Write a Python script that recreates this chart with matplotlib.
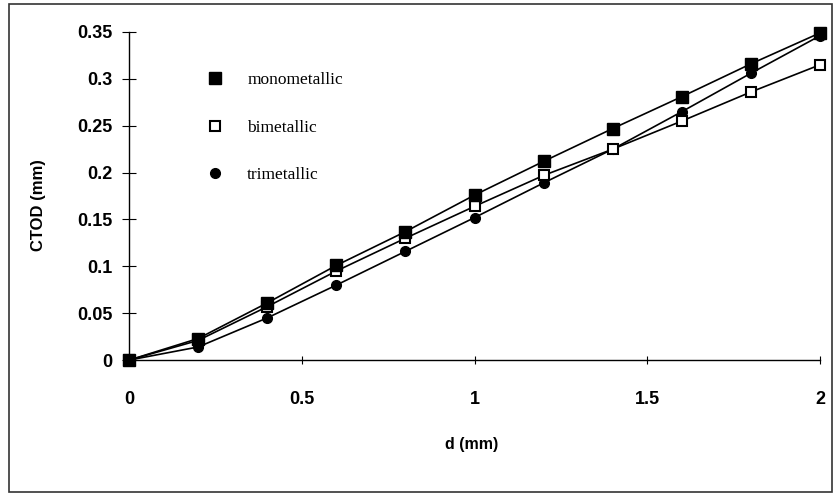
import matplotlib.pyplot as plt
from matplotlib.patches import Rectangle

# data
d = [0, 0.2, 0.4, 0.6, 0.8, 1.0, 1.2, 1.4, 1.6, 1.8, 2.0]
mono = [0, 0.023, 0.061, 0.101, 0.137, 0.176, 0.212, 0.247, 0.281, 0.316, 0.349]
bi = [0, 0.021, 0.057, 0.095, 0.130, 0.164, 0.197, 0.225, 0.255, 0.286, 0.315]
tri = [0, 0.014, 0.045, 0.080, 0.116, 0.152, 0.189, 0.225, 0.265, 0.306, 0.346]
labels = ['monometallic', 'bimetallic', 'trimetallic']
xticks = [0, 0.5, 1, 1.5, 2]
yticks = [0, 0.05, 0.1, 0.15, 0.2, 0.25, 0.3, 0.35]

fig = plt.figure(figsize=(8.38, 4.96), dpi=100)
ax = fig.add_axes([0.154, 0.274, 0.8245, 0.6615])

ax.plot(d, tri, color='black', lw=1.2, marker='o', ms=7, mfc='black', mec='black',
        clip_on=False, label=labels[2], zorder=3)
ax.plot(d, bi, color='black', lw=1.2, marker='s', ms=7.5, mfc='white', mec='black', mew=1.5,
        clip_on=False, label=labels[1], zorder=4)
ax.plot(d, mono, color='black', lw=1.2, marker='s', ms=8.5, mfc='black', mec='black',
        clip_on=False, label=labels[0], zorder=5)

ax.set_xlim(0, 2)
ax.set_ylim(0, 0.35)
ax.set_xticks(xticks)
ax.set_xticklabels(['0', '0.5', '1', '1.5', '2'])
ax.set_yticks(yticks)
ax.set_yticklabels(['0', '0.05', '0.1', '0.15', '0.2', '0.25', '0.3', '0.35'])

for s in ['top', 'right']:
    ax.spines[s].set_visible(False)
for s in ['left', 'bottom']:
    ax.spines[s].set_linewidth(1.0)

ax.tick_params(axis='y', direction='inout', length=10, width=0.8, labelsize=13, pad=7)
ax.tick_params(axis='x', direction='inout', length=6, width=0.8, labelsize=13, pad=19)
for t in ax.get_xticklabels() + ax.get_yticklabels():
    t.set_fontfamily('Liberation Sans')
    t.set_fontweight('bold')

ax.set_xlabel('d (mm)', fontsize=11.5, fontweight='bold', family='Liberation Sans')
ax.set_ylabel('CTOD (mm)', fontsize=12, fontweight='bold', family='Liberation Sans')
ax.xaxis.label.set_va('center')
ax.yaxis.label.set_va('center')
ax.xaxis.set_label_coords(0.496, -0.256)
ax.yaxis.set_label_coords(-0.1317, 0.4726)

# legend in the original order
h, l = ax.get_legend_handles_labels()
order = [2, 1, 0]
leg = ax.legend([h[i] for i in order], [l[i] for i in order], frameon=False,
                loc='upper left', bbox_to_anchor=(0.102, 0.925), labelspacing=1.8,
                handlelength=0, handletextpad=1.85, prop={'family': 'Liberation Serif', 'size': 12.5})
for lh in leg.legend_handles:
    lh.set_linestyle('None')

# figure border
fig.patches.append(Rectangle((9 / 838, 4 / 496), 823 / 838, 488 / 496, transform=fig.transFigure,
                             fill=False, edgecolor='#333333', lw=1.2))

fig.savefig('out.png', dpi=100)
